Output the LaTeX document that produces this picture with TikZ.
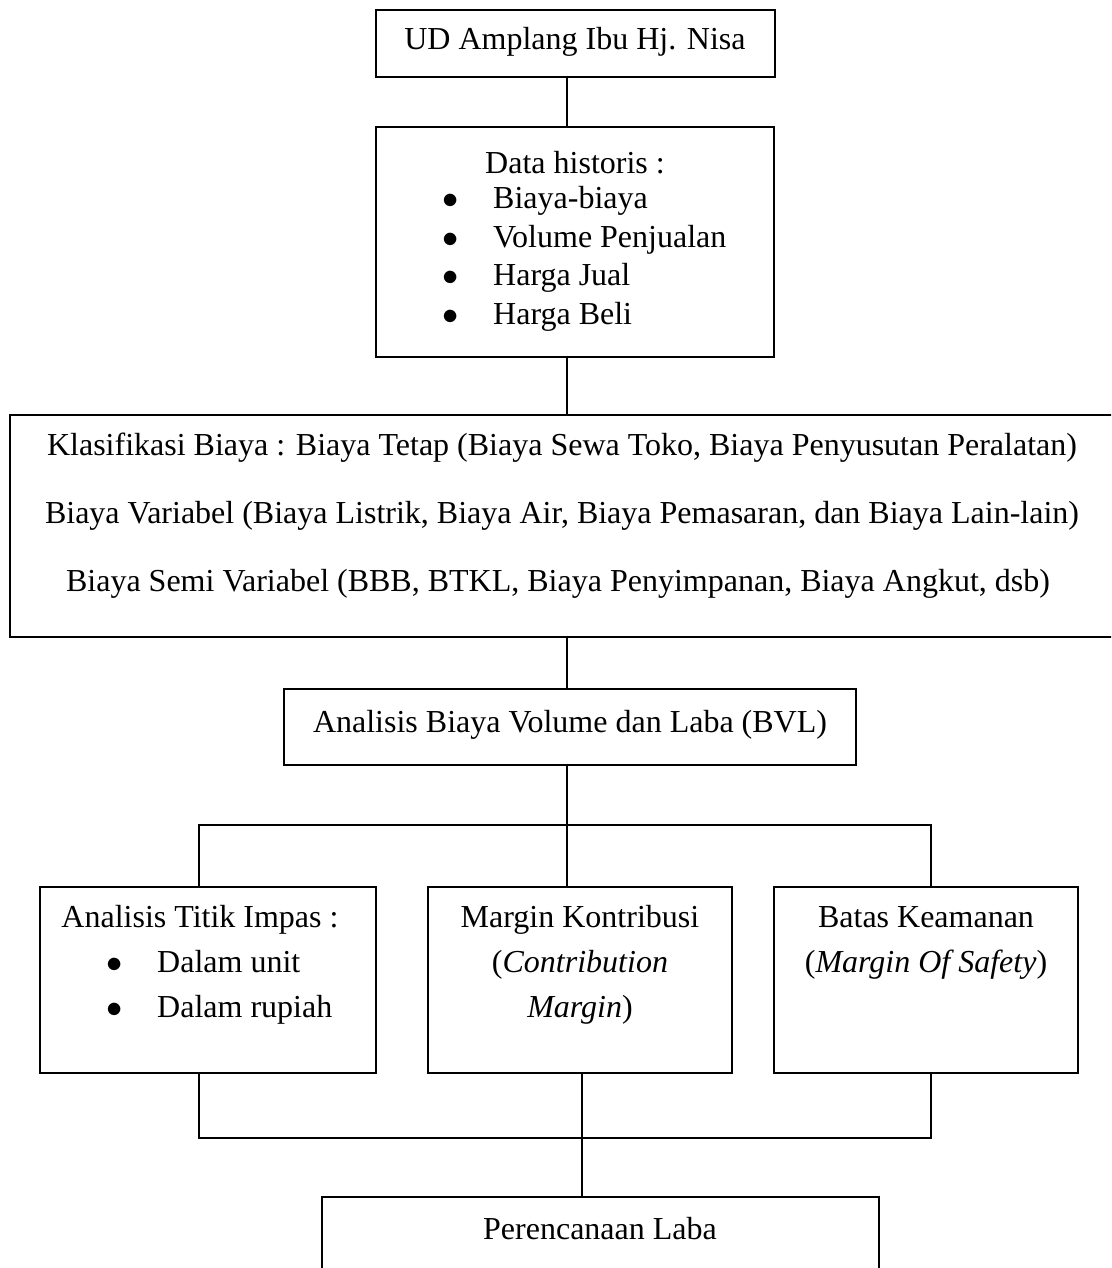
\documentclass[tikz,border=0pt]{standalone}
\usepackage{fontspec}
\usepackage{graphicx}
\setmainfont{Liberation Serif}
\usetikzlibrary{fit}

\tikzset{
  box/.style={draw, line width=1.3pt, inner sep=0pt},
  txt/.style={inner sep=0pt, anchor=base},
  item/.style={inner sep=0pt, anchor=base west},
  link/.style={line width=1.3pt},
}
\newcommand{\bul}[1]{\makebox[51pt][l]{\raisebox{-0.02em}{\scalebox{1.3}{$\bullet$}}}#1}

\begin{document}
\begin{tikzpicture}[x=1pt, y=-1pt, font=\fontsize{32}{38}\selectfont]
  \clip (0,0) rectangle (1111,1268);  % page

  % guide points for the connectors
  \coordinate (spine) at (567,0);  % main vertical
  \coordinate (planx) at (582,0);  % drop to the last box
  \coordinate (splitl) at (199,825);  % upper fork, left
  \coordinate (splitr) at (931,825);  % upper fork, right
  \coordinate (mergel) at (199,1138);  % lower fork, left
  \coordinate (merger) at (931,1138);  % lower fork, right

  % company
  \node[box, fit={(376,10) (775,77)}] (ud) {};  % box
  \node[txt] (udlabel) at (575,50) {UD Amplang Ibu Hj. Nisa};  % label

  % historical data
  \node[box, fit={(376,127) (774,357)}] (data) {};  % box
  \node[txt] (datalabel) at (575,174) {Data historis :};  % title
  \node[item] (data1) at (442,208) {\bul{Biaya-biaya}};  % item
  \node[item] (data2) at (442,247) {\bul{Volume Penjualan}};  % item
  \node[item] (data3) at (442,285) {\bul{Harga Jual}};  % item
  \node[item] (data4) at (442,324) {\bul{Harga Beli}};  % item

  % cost classes
  \node[box, fit={(10,415) (1130,637)}] (klas) {};  % box (runs off the page)
  \node[txt] (klas1) at (562,455) {Klasifikasi Biaya : Biaya Tetap (Biaya Sewa Toko, Biaya Penyusutan Peralatan)};
  \node[txt] (klas2) at (562,523) {Biaya Variabel (Biaya Listrik, Biaya Air, Biaya Pemasaran, dan Biaya Lain-lain)};
  \node[txt] (klas3) at (558,591) {Biaya Semi Variabel (BBB, BTKL, Biaya Penyimpanan, Biaya Angkut, dsb)};

  % CVP analysis
  \node[box, fit={(284,689) (856,765)}] (bvl) {};  % box
  \node[txt] (bvllabel) at (570,732) {Analisis Biaya Volume dan Laba (BVL)};  % label

  % break even point
  \node[box, fit={(40,887) (376,1073)}] (bep) {};  % box
  \node[txt] (beplabel) at (200,927) {Analisis Titik Impas :};  % title
  \node[item] (bep1) at (106,972) {\bul{Dalam unit}};  % item
  \node[item] (bep2) at (106,1017) {\bul{Dalam rupiah}};  % item

  % contribution margin
  \node[box, fit={(428,887) (732,1073)}] (cm) {};  % box
  \node[txt] (cm1) at (580,927) {Margin Kontribusi};  % label
  \node[txt] (cm2) at (580,972) {(\textit{Contribution}};
  \node[txt] (cm3) at (580,1017) {\textit{Margin})};

  % margin of safety
  \node[box, fit={(774,887) (1078,1073)}] (mos) {};  % box
  \node[txt] (mos1) at (926,927) {Batas Keamanan};  % label
  \node[txt] (mos2) at (926,972) {(\textit{Margin Of Safety})};

  % profit planning
  \node[box, fit={(322,1197) (879,1300)}] (plan) {};  % box (runs off the page)
  \node[txt] (planlabel) at (600,1239) {Perencanaan Laba};  % label

  % connectors down the middle
  \draw[link] (ud.south -| spine) -- (data.north -| spine);
  \draw[link] (data.south -| spine) -- (klas.north -| spine);
  \draw[link] (klas.south -| spine) -- (bvl.north -| spine);
  \draw[link] (bvl.south -| spine) -- (cm.north -| spine);

  % upper fork
  \draw[link] (splitl |- bep.north) -- (splitl) -- (splitr) -- (splitr |- mos.north);

  % lower fork
  \draw[link] (mergel |- bep.south) -- (mergel) -- (merger) -- (merger |- mos.south);
  \draw[link] (cm.south -| planx) -- (plan.north -| planx);
\end{tikzpicture}
\end{document}
